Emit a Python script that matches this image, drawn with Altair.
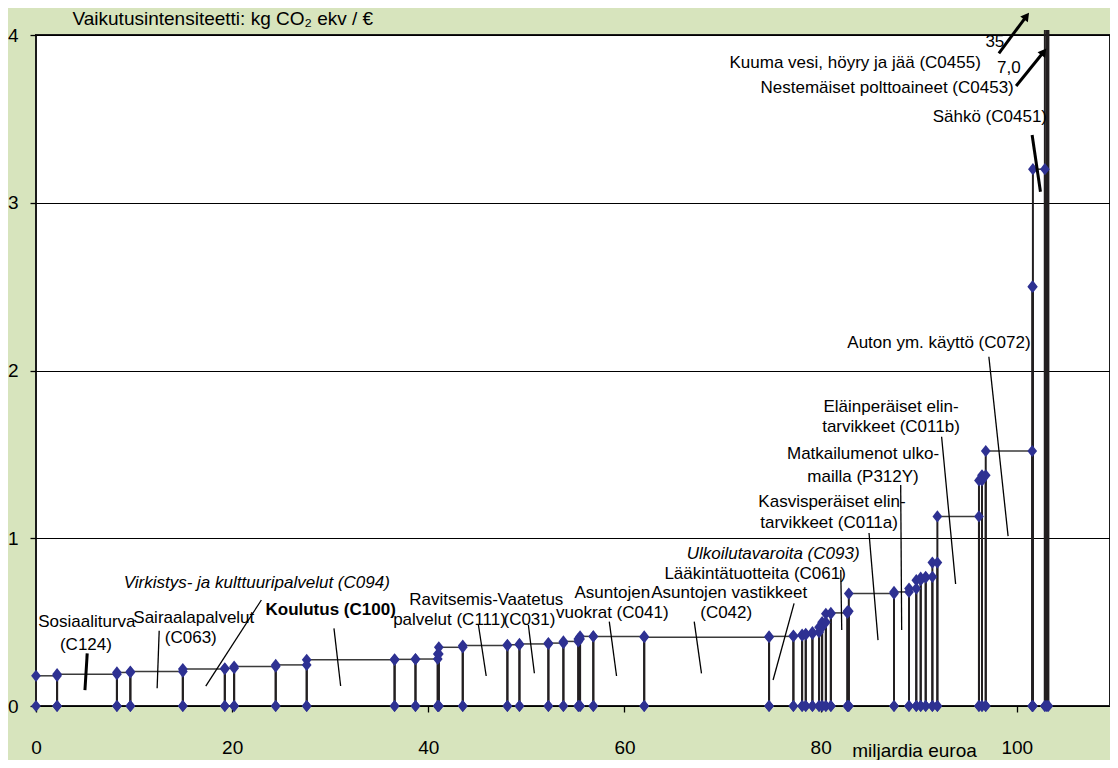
import altair as alt
import pandas as pd

# ---- data: consumption (billion EUR) and emission intensity (kg CO2e / EUR) ----
widths = [2.15, 6.10, 1.37, 5.35, 4.28, 0.95, 4.24, 3.16, 8.96, 2.13, 2.27, 0.11,
          2.44, 4.55, 1.23, 2.95, 1.53, 1.52, 0.18, 1.35, 5.19, 12.73, 2.48, 0.89,
          0.37, 0.68, 0.68, 0.31, 0.38, 0.51, 1.69, 0.14, 4.61, 1.53, 0.74, 0.45,
          0.51, 0.68, 0.51, 4.24, 0.31, 0.38, 4.74, 0.07, 1.22, 0.21, 0.15]
intensity = [0.18, 0.19, 0.20, 0.205, 0.22, 0.225, 0.235, 0.245, 0.275, 0.278, 0.28, 0.31,
             0.35, 0.36, 0.365, 0.37, 0.375, 0.385, 0.40, 0.415, 0.415, 0.41, 0.415, 0.42,
             0.425, 0.43, 0.44, 0.47, 0.50, 0.55, 0.555, 0.565, 0.67, 0.68, 0.70, 0.75,
             0.765, 0.77, 0.855, 1.13, 1.345, 1.375, 1.52, 2.5, 3.2, 7.0, 35.0]

x_ticks = [0, 20, 40, 60, 80, 100]
y_ticks = [0, 1, 2, 3, 4]

# annotation labels: text, x, y (data units), style, align
label_text = ["Sosiaaliturva", "(C124)", "Sairaalapalvelut", "(C063)",
              "Virkistys- ja kulttuuripalvelut (C094)", "Koulutus (C100)",
              "Ravitsemis-", "palvelut (C111)", "Vaatetus", "(C031)",
              "Asuntojen", "vuokrat (C041)", "Asuntojen vastikkeet", "(C042)",
              "Lääkintätuotteita (C061)", "Ulkoilutavaroita (C093)",
              "Kasvisperäiset elin-", "tarvikkeet (C011a)",
              "Matkailumenot ulko-", "mailla (P312Y)",
              "Eläinperäiset elin-", "tarvikkeet (C011b)",
              "Auton ym. käyttö (C072)", "Sähkö (C0451)",
              "Nestemäiset polttoaineet (C0453)", "Kuuma vesi, höyry ja jää (C0455)",
              "7,0", "35"]
label_x = [5.19, 5.09, 16.09, 15.78, 22.51, 30.04, 42.57, 42.16, 50.41, 50.31,
           58.76, 58.76, 70.67, 70.37, 73.32, 75.15, 81.16, 80.86, 84.32, 84.32,
           87.17, 87.17, 92.06, 97.25, 99.69, 96.33, 99.19, 97.76]
label_y = [0.501, 0.364, 0.525, 0.405, 0.733, 0.572, 0.632, 0.513, 0.632, 0.513,
           0.674, 0.554, 0.674, 0.554, 0.787, 0.906, 1.216, 1.091, 1.502, 1.365,
           1.782, 1.663, 2.164, 3.511, 3.684, 3.833, 3.803, 3.958]
label_style = ["normal"] * 4 + ["italic", "bold"] + ["normal"] * 9 + ["italic"] + ["normal"] * 12
label_align = ["center"] * 24 + ["right", "right", "center", "center"]

# leader lines: x1, y1, x2, y2 (data units), width
lead_x1 = [5.22, 12.56, 22.98, 30.38, 45.11, 50.20, 58.45, 67.11, 77.29, 82.05, 84.93, 88.16, 92.33, 97.15, 101.56]
lead_y1 = [0.314, 0.449, 0.632, 0.463, 0.483, 0.483, 0.503, 0.503, 0.612, 0.811, 1.031, 1.317, 1.605, 2.082, 3.404]
lead_x2 = [4.99, 12.35, 17.31, 31.06, 45.90, 50.81, 59.19, 67.85, 75.15, 82.15, 85.85, 88.26, 93.76, 99.11, 102.41]
lead_y2 = [0.095, 0.106, 0.119, 0.119, 0.179, 0.195, 0.179, 0.195, 0.155, 0.453, 0.393, 0.453, 0.727, 1.013, 3.066]
lead_w = [3, 1.3, 1.3, 1.3, 1.3, 1.3, 1.3, 1.3, 1.3, 1.3, 1.3, 1.3, 1.3, 1.3, 3]

# arrows for off-scale values
arrow_x1 = [99.93, 98.17]
arrow_y1 = [3.696, 3.891]
arrow_x2 = [102.75, 100.99]
arrow_y2 = [3.900, 4.113]

# ---- tables ----
seg = pd.DataFrame({"w": widths, "h": intensity})
seg["x1"] = seg["w"].cumsum()
seg["x0"] = seg["x1"] - seg["w"]
edges = pd.concat([seg[["x0", "h"]].rename(columns={"x0": "x"}),
                   seg[["x1", "h"]].rename(columns={"x1": "x"})], ignore_index=True)
labels = pd.DataFrame({"t": label_text, "x": label_x, "y": label_y,
                       "s": label_style, "a": label_align})
leads = pd.DataFrame({"x": lead_x1, "y": lead_y1, "x2": lead_x2, "y2": lead_y2, "w": lead_w})
arrows = pd.DataFrame({"x": arrow_x1, "y": arrow_y1, "x2": arrow_x2, "y2": arrow_y2})

FONT = "Liberation Sans"
xs = alt.Scale(domain=[0, 109.5], nice=False, zero=False)
ys = alt.Scale(domain=[0, 4], nice=False, zero=False)
xaxis = alt.Axis(values=x_ticks, grid=False, domain=False, ticks=True, tickSize=6,
                 tickColor="#000", tickWidth=1.3, labelFontSize=19, labelPadding=26,
                 labelFlush=False, labelOverlap=False,
                 labelColor="#000", labelFont=FONT, title="miljardia euroa",
                 titleFont=FONT, titleFontSize=19, titleFontWeight="normal",
                 titleColor="#000", titleX=878, titleY=54, titleBaseline="bottom",
                 titleAnchor="start", titleAlign="center")
yaxis = alt.Axis(values=y_ticks, grid=True, gridColor="#000", gridWidth=1.2,
                 domain=False, ticks=True, tickSize=6, tickColor="#000", tickWidth=1.3,
                 labelFontSize=19, labelPadding=12, labelColor="#000", labelFont=FONT,
                 labelFlush=False, labelOverlap=False,
                 title="Vaikutusintensiteetti: kg CO₂ ekv / €", titleFont=FONT,
                 titleFontSize=19, titleFontWeight="normal", titleColor="#000",
                 titleAngle=0, titleX=36, titleY=-17, titleAlign="left",
                 titleBaseline="middle", titleAnchor="start")


def X(f):
    return alt.X(f, type="quantitative", scale=xs, axis=xaxis)


def Y(f):
    return alt.Y(f, type="quantitative", scale=ys, axis=yaxis)


top_lines = alt.Chart(seg).mark_rule(color="#3a3a3a", strokeWidth=1.5).encode(
    x=X("x0"), x2="x1", y=Y("h")).transform_filter("datum.h <= 4")

verticals = alt.Chart(edges).transform_calculate(
    ytop="min(datum.h, 4.03)", y0="0").mark_rule(color="#231F20", strokeWidth=2).encode(
    x=X("x"), y=Y("y0"), y2="ytop")

diamond_style = dict(shape="M0,-1.25L1,0L0,1.25L-1,0Z", filled=True, size=95,
                     color="#2E3192", opacity=1)
bottom_pts = alt.Chart(edges).transform_calculate(y0="0").mark_point(**diamond_style).encode(
    x=X("x"), y=Y("y0"))
top_pts = alt.Chart(edges).transform_filter("datum.h <= 4").mark_point(**diamond_style).encode(
    x=X("x"), y=Y("h"))

lead_thin = alt.Chart(leads).transform_filter("datum.w < 2").mark_rule(
    color="#000", strokeWidth=1.3).encode(x=X("x"), y=Y("y"), x2="x2", y2="y2")
lead_thick = alt.Chart(leads).transform_filter("datum.w >= 2").mark_rule(
    color="#000", strokeWidth=3).encode(x=X("x"), y=Y("y"), x2="x2", y2="y2")
arrow_lines = alt.Chart(arrows).mark_rule(color="#000", strokeWidth=3).encode(
    x=X("x"), y=Y("y"), x2="x2", y2="y2")
arrow_heads = alt.Chart(arrows).mark_point(shape="triangle-up", filled=True, size=90,
                                           color="#000", opacity=1, angle=37).encode(
    x=X("x2"), y=Y("y2"))


def text_layer(style, align):
    kw = dict(font=FONT, fontSize=17, color="#000", align=align, baseline="middle")
    if style == "italic":
        kw["fontStyle"] = "italic"
    if style == "bold":
        kw["fontWeight"] = "bold"
    return alt.Chart(labels).transform_filter(
        f"datum.s == '{style}' && datum.a == '{align}'").mark_text(**kw).encode(
        x=X("x"), y=Y("y"), text="t:N")


texts = [text_layer("normal", "center"), text_layer("normal", "right"),
         text_layer("italic", "center"), text_layer("bold", "center")]

chart = alt.layer(top_lines, verticals, bottom_pts, top_pts, lead_thin, lead_thick,
                  arrow_lines, arrow_heads, *texts).properties(
    width=1074, height=671, background="#D7E4BD",
    padding={"left": 28, "top": 27, "right": 0, "bottom": 54},
    autosize=alt.AutoSizeParams(type="none"),
).configure_view(stroke="#1a1a1a", strokeWidth=2, fill="#ffffff")

chart.save("out.html", embed_options={"renderer": "svg", "actions": False})
